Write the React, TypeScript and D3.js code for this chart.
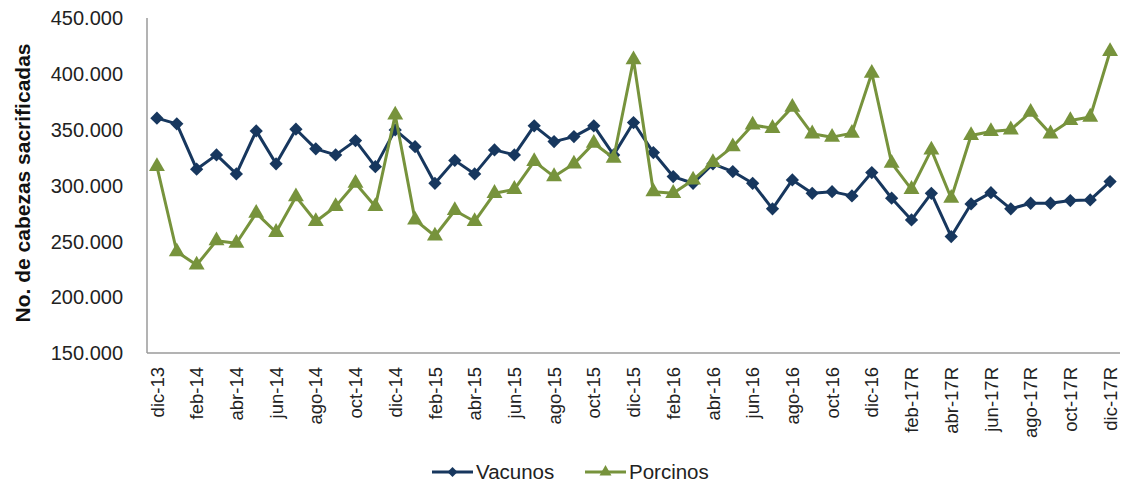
import React, { useEffect, useRef } from 'react';
import * as d3 from 'd3';

const months: string[] = [
  'dic-13',
  'ene-14', 'feb-14', 'mar-14', 'abr-14', 'may-14', 'jun-14', 'jul-14', 'ago-14', 'sep-14', 'oct-14', 'nov-14', 'dic-14',
  'ene-15', 'feb-15', 'mar-15', 'abr-15', 'may-15', 'jun-15', 'jul-15', 'ago-15', 'sep-15', 'oct-15', 'nov-15', 'dic-15',
  'ene-16', 'feb-16', 'mar-16', 'abr-16', 'may-16', 'jun-16', 'jul-16', 'ago-16', 'sep-16', 'oct-16', 'nov-16', 'dic-16',
  'ene-17R', 'feb-17R', 'mar-17R', 'abr-17R', 'may-17R', 'jun-17R', 'jul-17R', 'ago-17R', 'sep-17R', 'oct-17R', 'nov-17R', 'dic-17R',
];

// thousands of head
const vacunos: number[] = [
  360.3,
  355.2, 314.6, 327.4, 310.4, 348.9, 319.4, 350.4, 332.8, 327.4, 340.2, 316.9, 349.8,
  334.8, 302.0, 322.5, 310.4, 331.9, 327.4, 353.4, 339.3, 343.8, 353.4, 327.4, 356.4,
  329.5, 308.0, 302.0, 319.4, 312.5, 302.0, 279.1, 305.0, 293.0, 294.5, 290.7, 311.6,
  288.6, 269.2, 293.0, 254.3, 283.5, 293.6, 279.1, 284.1, 284.1, 286.5, 287.1, 303.5,
];

const porcinos: number[] = [
  317.0,
  240.7, 228.8, 250.6, 248.3, 275.2, 258.1, 290.0, 267.8, 281.2, 302.0, 281.2, 363.2,
  269.2, 254.8, 277.6, 267.8, 293.0, 296.6, 321.6, 308.0, 319.4, 337.9, 324.6, 412.6,
  294.4, 293.0, 305.0, 320.7, 334.8, 354.2, 351.2, 370.2, 346.3, 343.3, 346.9, 400.6,
  320.0, 296.6, 331.9, 288.6, 344.8, 348.4, 349.9, 365.7, 346.3, 358.3, 361.3, 420.0,
];

const yTicks: number[] = [150, 200, 250, 300, 350, 400, 450];

const seriesNames = ['Vacunos', 'Porcinos'];
const NAVY = '#17375e';
const GREEN = '#77933c';

const App: React.FC = () => {
  const svgRef = useRef<SVGSVGElement>(null);

  useEffect(() => {
    if (!svgRef.current) return;
    const width = 1122;
    const height = 483;
    const left = 147;
    const right = 1120;
    const top = 18;
    const bottom = 353;

    const svg = d3.select(svgRef.current);
    svg.selectAll('*').remove();
    svg.attr('width', width).attr('height', height);

    const font = '"Liberation Sans", Arial, sans-serif';

    const x = d3.scalePoint<string>().domain(months).range([left, right]).padding(0.5);
    const y = d3.scaleLinear().domain([150, 450]).range([bottom, top]);

    const locale = d3.formatLocale({ decimal: ',', thousands: '.', grouping: [3], currency: ['$', ''] });
    const fmt = locale.format(',.0f');

    // axis lines
    svg.append('line')
      .attr('x1', left).attr('x2', left).attr('y1', top).attr('y2', bottom)
      .style('stroke', '#9a9a9a').style('stroke-width', 1.5);
    svg.append('line')
      .attr('x1', left).attr('x2', right).attr('y1', bottom).attr('y2', bottom)
      .style('stroke', '#9a9a9a').style('stroke-width', 1.5);

    // y tick labels
    svg.append('g').selectAll('text')
      .data(yTicks)
      .enter().append('text')
      .attr('x', 123)
      .attr('y', d => y(d))
      .attr('dy', '0.36em')
      .attr('text-anchor', 'end')
      .style('font-family', font)
      .style('font-size', '20px')
      .style('fill', '#222')
      .text(d => fmt(d * 1000));

    // y title
    svg.append('text')
      .attr('transform', `translate(30,183) rotate(-90)`)
      .attr('text-anchor', 'middle')
      .style('font-family', font)
      .style('font-size', '21px')
      .style('font-weight', 'bold')
      .style('fill', '#111')
      .text('No. de cabezas sacrificadas');

    // x labels (every other month)
    svg.append('g').selectAll('text')
      .data(months.filter((_, i) => i % 2 === 0))
      .enter().append('text')
      .attr('transform', d => `translate(${x(d) as number},${bottom + 14}) rotate(-90)`)
      .attr('dy', '0.36em')
      .attr('text-anchor', 'end')
      .style('font-family', font)
      .style('font-size', '18.5px')
      .style('fill', '#222')
      .text(d => d);

    const line = d3.line<number>()
      .x((_, i) => x(months[i]) as number)
      .y(d => y(d));

    // excel style diamond = square turned 45deg
    const diamond = d3.symbol().type(d3.symbolSquare).size(88);
    const triangle = d3.symbol().type(d3.symbolTriangle).size(110);
    const markers = [
      { sym: diamond, rot: 45 },
      { sym: triangle, rot: 0 },
    ];

    const drawSeries = (data: number[], color: string, m: { sym: any; rot: number }) => {
      svg.append('path')
        .attr('d', line(data) || '')
        .style('fill', 'none')
        .style('stroke', color)
        .style('stroke-width', 3)
        .style('stroke-linejoin', 'round');
      svg.append('g').selectAll('path')
        .data(data)
        .enter().append('path')
        .attr('d', m.sym() as string)
        .attr('transform', (d, i) => `translate(${x(months[i])},${y(d)}) rotate(${m.rot})`)
        .style('fill', color);
    };

    drawSeries(vacunos, NAVY, markers[0]);
    drawSeries(porcinos, GREEN, markers[1]);

    // legend
    const legend = [
      { name: seriesNames[0], color: NAVY, m: markers[0], x0: 432 },
      { name: seriesNames[1], color: GREEN, m: markers[1], x0: 585 },
    ];
    const ly = 472;
    const lg = svg.append('g').selectAll('g').data(legend).enter().append('g');
    lg.append('line')
      .attr('x1', d => d.x0).attr('x2', d => d.x0 + 41)
      .attr('y1', ly).attr('y2', ly)
      .style('stroke', d => d.color).style('stroke-width', 3);
    lg.append('path')
      .attr('d', d => d.m.sym() as string)
      .attr('transform', d => `translate(${d.x0 + 20.5},${ly}) rotate(${d.m.rot}) scale(0.75)`)
      .style('fill', d => d.color);
    lg.append('text')
      .attr('x', d => d.x0 + 44)
      .attr('y', ly)
      .attr('dy', '0.36em')
      .style('font-family', font)
      .style('font-size', '20.5px')
      .style('fill', '#222')
      .text(d => d.name);
  }, []);

  return (
    <svg ref={svgRef} style={{ position: 'absolute', left: 0, top: 0, background: '#fff' }} />
  );
};

export default App;
